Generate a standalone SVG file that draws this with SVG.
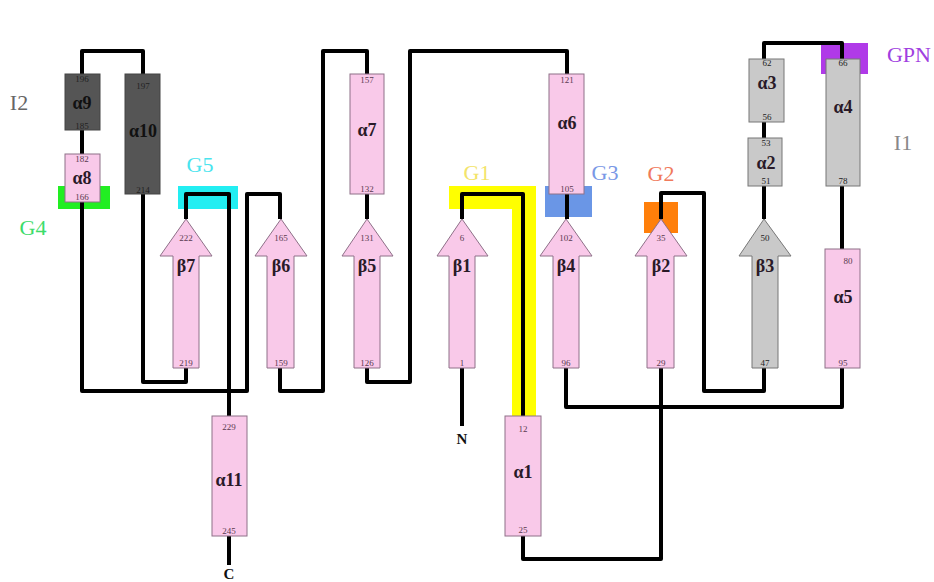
<svg xmlns="http://www.w3.org/2000/svg" width="934" height="582" viewBox="0 0 934 582">
<style>
.pk{fill:#f9c9e9;stroke:#8e7088;stroke-width:1}
.gy{fill:#c9c9c9;stroke:#777;stroke-width:1}
.dk{fill:#555;stroke:#444;stroke-width:1}
.num{font-family:"Liberation Serif",serif;font-size:9px;fill:#5a3a50;text-anchor:middle}
.numd{font-family:"Liberation Serif",serif;font-size:9px;fill:#222;text-anchor:middle}
.lab{font-family:"Liberation Serif",serif;font-size:18px;font-weight:bold;fill:#2a1a28;text-anchor:middle}
.big{font-family:"Liberation Serif",serif;font-size:22px;text-anchor:middle}
.end{font-family:"Liberation Serif",serif;font-size:15px;font-weight:bold;fill:#111;text-anchor:middle}
.ln{fill:none;stroke:#000;stroke-width:4;stroke-linejoin:round;stroke-linecap:butt}
</style>
<g id="highlights">
<rect x="58" y="186" width="52" height="23" fill="#22ee22"/>
<rect x="178" y="186" width="60" height="23" fill="#22eef2"/>
<rect x="449" y="186" width="86" height="23" fill="#ffff00"/>
<rect x="512" y="186" width="24" height="231" fill="#ffff00"/>
<rect x="545" y="186" width="47" height="31" fill="#6a96e6"/>
<rect x="644" y="202" width="34" height="31" fill="#ff7f0a"/>
<rect x="821" y="43" width="47" height="31" fill="#b03ae8"/>
</g>
<g id="connectors">
<path class="ln" d="M82,74 V51 H143 V74"/>
<path class="ln" d="M82,130 V154"/>
<path class="ln" d="M82,202 V391 H247 V194 H280 V219"/>
<path class="ln" d="M143,194 V382 H186 V368"/>
<path class="ln" d="M186,219 V194 H229 V416"/>
<path class="ln" d="M280,368 V391 H323 V51 H367 V74"/>
<path class="ln" d="M367,194 V219"/>
<path class="ln" d="M367,368 V382 H410 V51 H567 V74"/>
<path class="ln" d="M567,194 V219"/>
<path class="ln" d="M566,368 V407 H842 V368"/>
<path class="ln" d="M462,219 V194 H523 V416"/>
<path class="ln" d="M462,368 V426"/>
<path class="ln" d="M523,536 V559 H661 V368"/>
<path class="ln" d="M661,219 V193 H704 V391 H764 V368"/>
<path class="ln" d="M764,219 V186"/>
<path class="ln" d="M764,138 V122"/>
<path class="ln" d="M764,59 V43 H842 V59"/>
<path class="ln" d="M842,186 V249"/>
<path class="ln" d="M229,536 V565"/>
</g>
<g id="a9"><rect class="dk" x="65" y="74" width="35" height="56"/><text class="numd" x="82" y="82">196</text><text class="lab" x="82" y="109" style="fill:#111">α9</text><text class="numd" x="82" y="129">185</text></g>
<g id="a10"><rect class="dk" x="125" y="74" width="35" height="120"/><text class="numd" x="143" y="89">197</text><text class="lab" x="143" y="137" style="fill:#111">α10</text><text class="numd" x="143" y="193">214</text></g>
<g id="a8"><rect class="pk" x="65" y="154" width="35" height="48"/><text class="num" x="82" y="162">182</text><text class="lab" x="82" y="184">α8</text><text class="num" x="82" y="200">166</text></g>
<g id="b7"><polygon class="pk" points="186,219 212,256 199,256 199,368 173,368 173,256 160,256"/><text class="num" x="186" y="241">222</text><text class="lab" x="186" y="272">β7</text><text class="num" x="186" y="366">219</text></g>
<g id="b6"><polygon class="pk" points="281,219 307,256 294,256 294,368 267,368 267,256 255,256"/><text class="num" x="281" y="241">165</text><text class="lab" x="281" y="272">β6</text><text class="num" x="281" y="366">159</text></g>
<g id="b5"><polygon class="pk" points="367,219 393,256 380,256 380,368 354,368 354,256 342,256"/><text class="num" x="367" y="241">131</text><text class="lab" x="367" y="272">β5</text><text class="num" x="367" y="366">126</text></g>
<g id="a7"><rect class="pk" x="350" y="74" width="34" height="120"/><text class="num" x="367" y="83">157</text><text class="lab" x="367" y="136">α7</text><text class="num" x="367" y="192">132</text></g>
<g id="a6"><rect class="pk" x="549" y="74" width="35" height="120"/><text class="num" x="567" y="83">121</text><text class="lab" x="567" y="129">α6</text><text class="num" x="567" y="192">105</text></g>
<g id="b1"><polygon class="pk" points="462,219 488,256 475,256 475,368 449,368 449,256 437,256"/><text class="num" x="462" y="241">6</text><text class="lab" x="462" y="272">β1</text><text class="num" x="462" y="366">1</text></g>
<g id="b4"><polygon class="pk" points="566,219 592,256 579,256 579,368 553,368 553,256 540,256"/><text class="num" x="566" y="241">102</text><text class="lab" x="566" y="272">β4</text><text class="num" x="566" y="366">96</text></g>
<g id="b2"><polygon class="pk" points="661,219 687,256 674,256 674,368 647,368 647,256 635,256"/><text class="num" x="661" y="241">35</text><text class="lab" x="661" y="272">β2</text><text class="num" x="661" y="366">29</text></g>
<g id="b3"><polygon class="gy" points="764,219 791,256 778,256 778,368 752,368 752,256 739,256"/><text class="numd" x="765" y="241">50</text><text class="lab" x="765" y="272">β3</text><text class="numd" x="765" y="366">47</text></g>
<g id="a3"><rect class="gy" x="749" y="59" width="35" height="63"/><text class="numd" x="767" y="66">62</text><text class="lab" x="767" y="89">α3</text><text class="numd" x="767" y="120">56</text></g>
<g id="a2"><rect class="gy" x="748" y="138" width="34" height="48"/><text class="numd" x="766" y="146">53</text><text class="lab" x="766" y="169">α2</text><text class="numd" x="766" y="184">51</text></g>
<g id="a4"><rect class="gy" x="826" y="59" width="34" height="127"/><text class="numd" x="843" y="66">66</text><text class="lab" x="843" y="113">α4</text><text class="numd" x="843" y="184">78</text></g>
<g id="a5"><rect class="pk" x="825" y="249" width="35" height="119"/><text class="num" x="848" y="264">80</text><text class="lab" x="843" y="303">α5</text><text class="num" x="843" y="366">95</text></g>
<g id="a11"><rect class="pk" x="212" y="416" width="35" height="120"/><text class="num" x="229" y="430">229</text><text class="lab" x="229" y="486">α11</text><text class="num" x="229" y="534">245</text></g>
<g id="a1"><rect class="pk" x="505" y="416" width="36" height="120"/><text class="num" x="523" y="432">12</text><text class="lab" x="523" y="478">α1</text><text class="num" x="523" y="533">25</text></g>
<g id="labels">
<text class="big" x="19" y="110" fill="#666">I2</text>
<text class="big" x="33" y="235" fill="#3ddc6a">G4</text>
<text class="big" x="200" y="172" fill="#4ae4ee">G5</text>
<text class="big" x="477" y="180" fill="#f3e46a">G1</text>
<text class="big" x="605" y="180" fill="#7a98e6">G3</text>
<text class="big" x="661" y="181" fill="#f07a5c">G2</text>
<text class="big" x="909" y="62" fill="#a040e0">GPN</text>
<text class="big" x="903" y="150" fill="#888">I1</text>
<text class="end" x="462" y="444">N</text>
<text class="end" x="229" y="579">C</text>
</g>
</svg>
